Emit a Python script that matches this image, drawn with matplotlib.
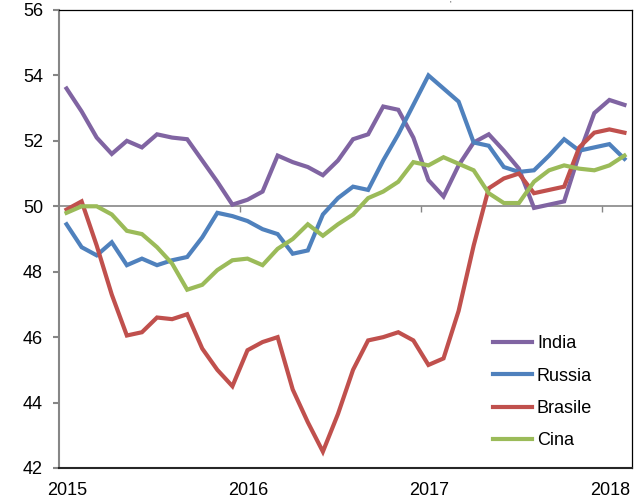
import numpy as np
import matplotlib
matplotlib.use("Agg")
import matplotlib.pyplot as plt
from matplotlib.transforms import ScaledTranslation

# monthly PMI readings, Jan 2015 - Feb 2018
india = [53.6, 52.9, 52.1, 51.6, 52.0, 51.8, 52.2, 52.1, 52.05, 51.4,
         50.75, 50.05, 50.2, 50.45, 51.55, 51.35, 51.2, 50.95, 51.4, 52.05,
         52.2, 53.05, 52.95, 52.1, 50.8, 50.3, 51.25, 51.95, 52.2, 51.7,
         51.15, 49.95, 50.05, 50.15, 51.6, 52.85, 53.25, 53.1]
russia = [49.45, 48.75, 48.5, 48.9, 48.2, 48.4, 48.2, 48.35, 48.45, 49.05,
          49.8, 49.7, 49.55, 49.3, 49.15, 48.55, 48.65, 49.75, 50.25, 50.6,
          50.5, 51.4, 52.2, 53.1, 54.0, 53.6, 53.2, 51.95, 51.85, 51.2,
          51.05, 51.1, 51.55, 52.05, 51.7, 51.8, 51.9, 51.45]
brasile = [49.9, 50.15, 48.8, 47.3, 46.05, 46.15, 46.6, 46.55, 46.7, 45.65,
           45.0, 44.5, 45.6, 45.85, 46.0, 44.4, 43.4, 42.5, 43.65, 45.0,
           45.9, 46.0, 46.15, 45.9, 45.15, 45.35, 46.8, 48.8, 50.55, 50.85,
           51.0, 50.4, 50.5, 50.6, 51.8, 52.25, 52.35, 52.25]
cina = [49.8, 50.0, 50.0, 49.75, 49.25, 49.15, 48.75, 48.25, 47.45, 47.6,
        48.05, 48.35, 48.4, 48.2, 48.7, 49.0, 49.45, 49.1, 49.45, 49.75,
        50.25, 50.45, 50.75, 51.35, 51.25, 51.5, 51.3, 51.1, 50.4, 50.1,
        50.1, 50.75, 51.1, 51.25, 51.15, 51.1, 51.25, 51.55]

labels = ["India", "Russia", "Brasile", "Cina"]
colors = ["#8064A2", "#4F81BD", "#C0504D", "#9BBB59"]
years = [2015, 2016, 2017, 2018]

plt.rcParams['font.family'] = ['Liberation Sans', 'DejaVu Sans']

fig = plt.figure(figsize=(6.43, 4.99), dpi=100)
ax = fig.add_axes([59 / 643, 31 / 499, 573 / 643, 458 / 499])

x = np.arange(len(india)) + 0.5  # mid-month positions
year_pos = [(y - years[0]) * 12 for y in years]

# category axis crossing at 50, with year ticks pointing down
ax.axhline(50, color='#868686', lw=1.2, zorder=1)
ax.vlines(year_pos[1:], 49.82, 50, color='#868686', lw=1, zorder=1)

for vals, lab, col in zip([india, russia, brasile, cina], labels, colors):
    ax.plot(x, vals, color=col, lw=3, label=lab, solid_joinstyle='miter', zorder=2)

ax.set_xlim(0, len(india))
ax.set_ylim(42, 56)
ax.set_yticks(np.arange(42, 57, 2))
ax.tick_params(axis='y', colors='#868686', length=4.5, width=1.5, pad=7,
               labelcolor='black', labelsize=13)

ax.set_xticks(year_pos)
ax.set_xticklabels([str(y) for y in years])
ax.tick_params(axis='x', length=0, pad=10, labelsize=13)
for t in ax.get_xticklabels():
    t.set_transform(t.get_transform() + ScaledTranslation(8 / 100, 0, fig.dpi_scale_trans))

ax.spines['left'].set_color('#868686')
ax.spines['left'].set_linewidth(1.5)
ax.spines['bottom'].set_color('#262626')
ax.spines['bottom'].set_linewidth(1.5)
for s in ['top', 'right']:
    ax.spines[s].set_color('black')
    ax.spines[s].set_linewidth(0.9)

ax.legend(loc='upper left', bbox_to_anchor=(0.757, 0.29), frameon=False,
          fontsize=13, handlelength=2.2, handletextpad=0.25, labelspacing=0.85,
          borderpad=0, borderaxespad=0)

# remnant of a cropped title above the chart
fig.text(450 / 643, 1.0, "'", fontsize=6, color='#333333', ha='center', va='top')

fig.savefig("out.png", dpi=100)
